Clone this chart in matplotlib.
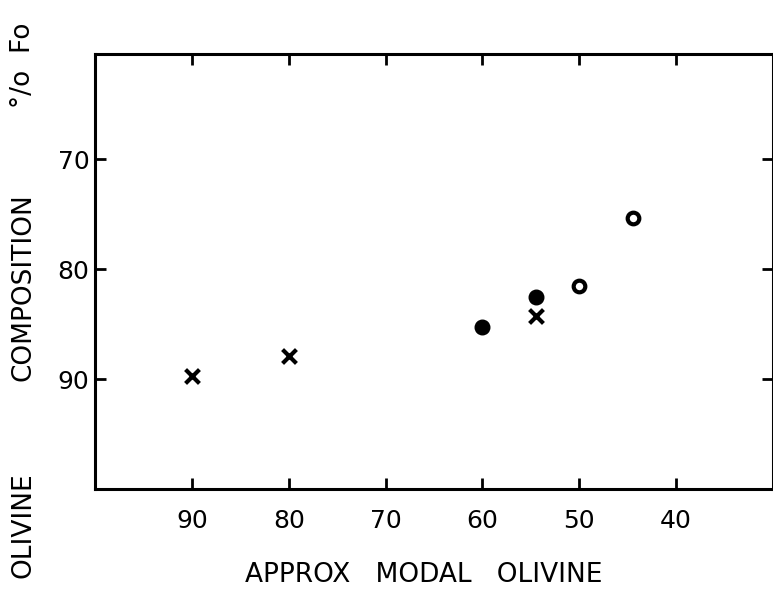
import matplotlib.pyplot as plt

# approx modal olivine (%) vs olivine composition (% Fo)
cross_x = [90, 80, 54.5]
cross_y = [89.7, 87.9, 84.2]
dot_x = [60, 54.5]
dot_y = [85.2, 82.5]
ring_x = [50, 44.5]
ring_y = [81.5, 75.3]

xticks = [90, 80, 70, 60, 50, 40]
yticks = [70, 80, 90]

fig = plt.figure(figsize=(7.73, 5.93), dpi=100)
ax = fig.add_axes([0.123, 0.175, 0.877, 0.734])

ax.scatter(cross_x, cross_y, marker='x', s=100, color='black', linewidths=3)
ax.scatter(dot_x, dot_y, marker='o', s=110, color='black')
ax.scatter(ring_x, ring_y, marker='o', s=70, facecolors='white',
           edgecolors='black', linewidths=3)

ax.set_xlim(100, 30)
ax.set_ylim(100, 60.4)
ax.set_xticks(xticks)
ax.set_yticks(yticks)
ax.tick_params(direction='in', length=8, width=2, labelsize=18,
               top=True, right=True)
ax.tick_params(axis='x', pad=14)
ax.tick_params(axis='y', pad=4)
for s in ax.spines.values():
    s.set_linewidth(2.2)

fig.text(0.548, 0.03, 'APPROX   MODAL   OLIVINE',
         ha='center', va='center', fontsize=19)
# y label drawn as three pieces to keep the wide word gaps
for txt, yy in [('OLIVINE', 0.115), ('COMPOSITION', 0.516), ('°/o  Fo', 0.89)]:
    fig.text(0.03, yy, txt, ha='center', va='center', rotation=90,
             fontsize=19)

fig.savefig('out.png', dpi=100)
